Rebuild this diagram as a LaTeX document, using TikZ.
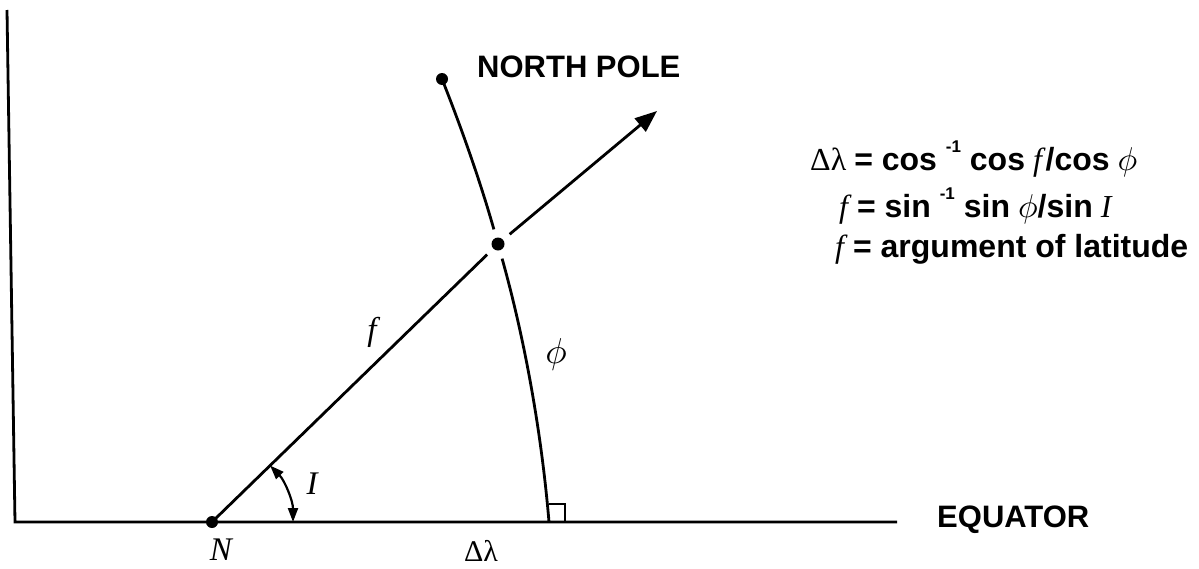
\documentclass[tikz,border=0pt]{standalone}
\usepackage{fontspec}
\setmainfont{Liberation Serif}
\newfontfamily\hv{Liberation Sans}
\usetikzlibrary{arrows.meta}
\newcommand\bsf[1]{{\hv\bfseries #1}}
\newcommand\supm{\raisebox{0.55em}{\hv\bfseries\fontsize{17}{17}\selectfont -1}}
\newcommand\phieq{\scalebox{3.3}{\normalsize$\phi$}}
\begin{document}
\begin{tikzpicture}[x=1pt,y=-1pt,
  line/.style={line width=2.8pt},
  thin line/.style={line width=2.2pt},
  dot/.style={circle,fill,inner sep=0pt,minimum size=12pt},
  sanslbl/.style={font=\hv\bfseries\fontsize{31}{36}\selectfont,inner sep=0pt},
  eqn/.style={font=\fontsize{32}{38}\selectfont,inner sep=0pt,anchor=base west},
  serlbl/.style={font=\fontsize{33}{38}\selectfont\itshape,inner sep=0pt}]
\useasboundingbox (0,0) rectangle (1199,568);
\coordinate (top) at (7,10);
\coordinate (O) at (15,522);
\coordinate (E) at (897,522);
\node[dot] (N) at (212,522) {};
\node[dot] (pole) at (442,79) {};
\coordinate (foot) at (549,522);
\node[circle,minimum size=30pt,inner sep=0pt] (X) at (498,244) {};
\coordinate (tip) at (657,111);
\coordinate (Ia) at (293,522);
\draw[line] (top) -- (O) -- (E);
\draw[line] (N.center) -- (X);
\draw[line,-{Triangle[length=22pt,width=17pt]}] (X) -- (tip);
\draw[line] (pole.center) .. controls (463.9,134) and (482.5,189) .. (X);
\draw[line] (X) .. controls (524,336.7) and (541.2,429.3) .. (foot);
\fill (X.center) circle[radius=6.5];
\draw[thin line] (foot) ++(0,-18) -- ++(16,0) -- ++(0,18);
\draw[thin line,{Triangle[length=14pt,width=10pt]}-{Triangle[length=14pt,width=10pt]}] (Ia) arc[start angle=0,end angle=-44.2,radius=81];
\node[serlbl] (flbl) at (372,332) {f};
\node[inner sep=0pt] (philbl) at (556,354) {\scalebox{3.6}{\normalsize$\phi$}};
\node[serlbl] (Ilbl) at (312,484) {I};
\node[serlbl] (Nlbl) at (221,550) {N};
\node[inner sep=0pt,font=\fontsize{30}{36}\selectfont,anchor=base] (dl) at (481,561) {Δλ};
\node[sanslbl,anchor=base west] (np) at (477,77) {NORTH POLE};
\node[sanslbl,anchor=base west] (eqt) at (937,527) {EQUATOR};
\node[eqn] (eq1) at (810,170) {Δλ \bsf{= cos \supm{} cos} \textit{f}\bsf{/cos} \phieq};
\node[eqn] (eq2) at (839,217) {\textit{f}\,\bsf{= sin \supm{} sin} \phieq\bsf{/sin} \textit{I}};
\node[eqn] (eq3) at (835,257) {\textit{f}\,\bsf{= argument of latitude}};
\end{tikzpicture}
\end{document}
